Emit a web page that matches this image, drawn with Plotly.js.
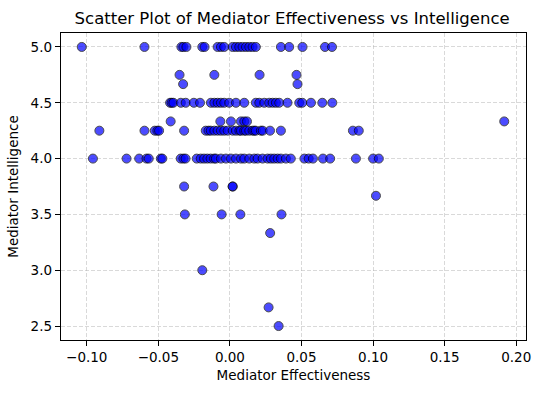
<!DOCTYPE html>
<html>
<head>
<meta charset="utf-8">
<script src="https://cdn.plot.ly/plotly-3.0.1.min.js"></script>
<style>
  html, body { margin: 0; padding: 0; background: #fff; }
  #grafico { width: 541px; height: 393px; }
</style>
</head>
<body>
<div id="grafico"></div>
<script>
// effectiveness values, one list per intelligence level
var efic500 = [-0.1035, -0.0597, -0.0339, -0.0325, -0.0304, -0.0193, -0.0177, -0.0086, -0.0063, -0.004,
    0.0019, 0.0042, 0.0065, 0.0088, 0.0112, 0.0135, 0.0158, 0.0181, 0.0356, 0.0414, 0.0507, 0.0664, 0.0713];
var efic475 = [-0.0352, -0.0109, 0.0207, 0.0465];
var efic467 = [-0.0327, 0.0472];
var efic450 = [-0.0418, -0.0407, -0.0395, -0.0343, -0.0309, -0.0252, -0.0209, -0.0133, -0.0109, -0.0086,
    -0.0063, -0.004, -0.0005, 0.0042, 0.01, 0.0181, 0.0205, 0.024, 0.0274, 0.0298, 0.0321, 0.0344,
    0.0402, 0.0484, 0.0505, 0.0566, 0.0645, 0.0715];
var efic433 = [-0.0414, -0.0067, 0.0007, 0.0077, 0.01, 0.0119, 0.1916];
var efic425 = [-0.0912, -0.0597, -0.0525, -0.0507, -0.0495, -0.032, -0.0169, -0.015, -0.0134, -0.0109,
    -0.0086, -0.0063, -0.004, -0.0016, 0.0019, 0.0042, 0.0066, 0.0077, 0.01, 0.0112, 0.0135, 0.0158,
    0.017, 0.0181, 0.0216, 0.0229, 0.028, 0.0356, 0.0859, 0.09];
var efic400 = [-0.0957, -0.0722, -0.0634, -0.0583, -0.0567, -0.0483, -0.0472, -0.0344, -0.0325, -0.031,
    -0.0232, -0.0204, -0.0181, -0.0158, -0.0135, -0.0111, -0.0098, -0.0063, -0.0028, 0.0007, 0.0042,
    0.0077, 0.01, 0.0135, 0.017, 0.0193, 0.0228, 0.0263, 0.0286, 0.0309, 0.0333, 0.0356, 0.0391,
    0.0425, 0.052, 0.055, 0.058, 0.065, 0.07, 0.088, 0.1, 0.104];
var efic375 = [-0.032, -0.0115, 0.0019, 0.0019];
var efic367 = [0.102];
var efic350 = [-0.0315, -0.0058, 0.0073, 0.036];
var efic333 = [0.0281];
var efic300 = [-0.0193];
var efic267 = [0.027];
var efic250 = [0.034];

var niveis = [5.0, 4.75, 4.667, 4.5, 4.333, 4.25, 4.0, 3.75, 3.667, 3.5, 3.333, 3.0, 2.667, 2.5];
var grupos = [efic500, efic475, efic467, efic450, efic433, efic425, efic400, efic375, efic367,
    efic350, efic333, efic300, efic267, efic250];

var coordenadasx = [];
var coordenadasy = [];
for (let i = 0; i < niveis.length; i++) {
    for (let j = 0; j < grupos[i].length; j++) {
        coordenadasx.push(grupos[i][j]);
        coordenadasy.push(niveis[i]);
    }
}

var dados = [{
    x: coordenadasx, y: coordenadasy, mode: 'markers', type: 'scatter',
    marker: {size: 9, color: 'blue', opacity: 0.7, line: {color: 'black', width: 1}},
    hoverinfo: 'x+y'
}];

var eixo = {
    showline: true, mirror: true, linecolor: 'black', linewidth: 1.2,
    ticks: 'outside', ticklen: 5, tickcolor: 'black', tickwidth: 1,
    showgrid: true, gridcolor: 'rgba(176,176,176,0.6)', griddash: '4px,2px', gridwidth: 0.8,
    zeroline: false, tickfont: {size: 13.5, color: 'black'}
};

var layout = {
    width: 541, height: 393,
    margin: {l: 61, r: 15, t: 33, b: 53},
    paper_bgcolor: 'white', plot_bgcolor: 'white',
    font: {family: 'DejaVu Sans, sans-serif', color: 'black'},
    showlegend: false,
    title: {
        text: 'Scatter Plot of Mediator Effectiveness vs Intelligence',
        font: {size: 16.5, color: 'black'},
        x: 0.54, xanchor: 'center', y: 1 - 18 / 393, yanchor: 'middle', yref: 'container'
    },
    xaxis: Object.assign({}, eixo, {
        title: {text: 'Mediator Effectiveness', font: {size: 13.5}, standoff: 6},
        range: [-0.118, 0.2068], tickvals: [-0.10, -0.05, 0.00, 0.05, 0.10, 0.15, 0.20], tickformat: '.2f'
    }),
    yaxis: Object.assign({}, eixo, {
        title: {text: 'Mediator Intelligence', font: {size: 13.5}, standoff: 8},
        range: [2.375, 5.125], tickvals: [2.5, 3.0, 3.5, 4.0, 4.5, 5.0], tickformat: '.1f'
    })
};

Plotly.newPlot('grafico', dados, layout, {displayModeBar: false, staticPlot: true});
</script>
</body>
</html>
